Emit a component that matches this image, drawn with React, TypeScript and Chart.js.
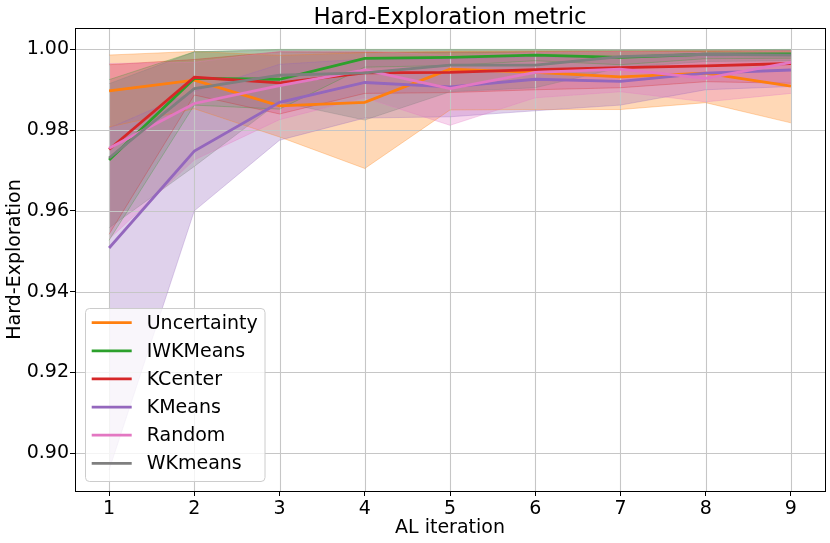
import { useEffect, useRef } from "react";
import { Chart, registerables } from "chart.js";

Chart.register(...registerables);

// AL iterations
const iterations = [1, 2, 3, 4, 5, 6, 7, 8, 9];
const xTicks = [1, 2, 3, 4, 5, 6, 7, 8, 9];
const yTicks = [0.9, 0.92, 0.94, 0.96, 0.98, 1.0];

const methods = ["Uncertainty", "IWKMeans", "KCenter", "KMeans", "Random", "WKmeans"];
const colors = ["#ff7f0e", "#2ca02c", "#d62728", "#9467bd", "#e377c2", "#7f7f7f"];

// means
const uncertaintyMean = [0.9897, 0.9924, 0.986, 0.9869, 0.9951, 0.9943, 0.9932, 0.9941, 0.9909];
const iwkmeansMean = [0.9726, 0.9928, 0.9926, 0.9978, 0.998, 0.9986, 0.998, 0.9988, 0.9989];
const kcenterMean = [0.9752, 0.9931, 0.9917, 0.9942, 0.9943, 0.995, 0.9955, 0.9959, 0.9965];
const kmeansMean = [0.9508, 0.9748, 0.9869, 0.9918, 0.9907, 0.9926, 0.9921, 0.9941, 0.9949];
const randomMean = [0.9755, 0.9866, 0.991, 0.9949, 0.9903, 0.9943, 0.9951, 0.9928, 0.9968];
const wkmeansMean = [0.9731, 0.9903, 0.9936, 0.9942, 0.9961, 0.9961, 0.9982, 0.9988, 0.9986];

// band upper edges
const uncertaintyUpper = [0.9986, 0.9995, 0.9985, 0.9992, 0.9995, 0.9996, 0.9996, 0.9996, 0.9995];
const iwkmeansUpper = [0.9925, 0.9994, 1.0, 1.0, 1.0, 1.0, 0.9998, 0.9999, 1.0];
const kcenterUpper = [0.9962, 0.9975, 0.9994, 0.9993, 0.9993, 0.9994, 0.9995, 0.9996, 0.9997];
const kmeansUpper = [0.9805, 0.9896, 0.9963, 0.9976, 0.9976, 0.9982, 0.998, 0.9982, 0.999];
const randomUpper = [0.9965, 0.9968, 0.9995, 0.9996, 0.9985, 0.9992, 0.9995, 0.9992, 0.9996];
const wkmeansUpper = [0.9915, 0.9994, 0.9998, 0.9998, 0.9998, 0.9998, 0.9999, 0.9999, 0.9999];

// band lower edges
const uncertaintyLower = [0.9808, 0.9853, 0.9783, 0.9705, 0.985, 0.9851, 0.9851, 0.9868, 0.9818];
const iwkmeansLower = [0.9527, 0.9862, 0.9852, 0.9956, 0.996, 0.9972, 0.9962, 0.9977, 0.9978];
const kcenterLower = [0.9542, 0.9887, 0.984, 0.9891, 0.9893, 0.99, 0.9905, 0.992, 0.9916];
const kmeansLower = [0.8958, 0.96, 0.9775, 0.983, 0.9833, 0.9848, 0.9862, 0.99, 0.9908];
const randomLower = [0.953, 0.9726, 0.9826, 0.988, 0.9812, 0.988, 0.9895, 0.987, 0.9891];
const wkmeansLower = [0.9558, 0.971, 0.987, 0.9825, 0.9895, 0.9905, 0.9955, 0.997, 0.9972];

const means = [uncertaintyMean, iwkmeansMean, kcenterMean, kmeansMean, randomMean, wkmeansMean];
const uppers = [uncertaintyUpper, iwkmeansUpper, kcenterUpper, kmeansUpper, randomUpper, wkmeansUpper];
const lowers = [uncertaintyLower, iwkmeansLower, kcenterLower, kmeansLower, randomLower, wkmeansLower];

const FONT = "'DejaVu Sans', sans-serif";

function alpha(hex: string, a: number) {
  const r = parseInt(hex.slice(1, 3), 16);
  const g = parseInt(hex.slice(3, 5), 16);
  const b = parseInt(hex.slice(5, 7), 16);
  return `rgba(${r},${g},${b},${a})`;
}

const pts = (ys: number[]) => iterations.map((x, i) => ({ x, y: ys[i] }));

export default function App() {
  const chartRef = useRef<HTMLCanvasElement | null>(null);

  useEffect(() => {
    document.body.style.margin = "0";
    const canvas = chartRef.current;
    if (!canvas) return;

    const datasets: any[] = [];
    methods.forEach((name, i) => {
      datasets.push({
        label: name + " upper",
        data: pts(uppers[i]),
        borderColor: alpha(colors[i], 0.3),
        borderWidth: 1,
        backgroundColor: alpha(colors[i], 0.3),
        pointRadius: 0,
        fill: "+1",
        order: 100 - i,
      });
      datasets.push({
        label: name + " lower",
        data: pts(lowers[i]),
        borderColor: alpha(colors[i], 0.3),
        borderWidth: 1,
        pointRadius: 0,
        fill: false,
        order: 100 - i,
      });
      datasets.push({
        label: name,
        data: pts(means[i]),
        borderColor: colors[i],
        borderWidth: 2.8,
        pointRadius: 0,
        fill: false,
        order: 50 - i,
      });
    });

    const decor = {
      id: "decor",
      beforeDatasetsDraw(chart: any) {
        // grid above the bands, below the lines
        const { ctx, chartArea: a, scales } = chart;
        ctx.save();
        ctx.strokeStyle = "#c6c6c6";
        ctx.lineWidth = 1.1;
        xTicks.forEach((v) => {
          const px = Math.round(scales.x.getPixelForValue(v)) + 0.5;
          ctx.beginPath();
          ctx.moveTo(px, a.top);
          ctx.lineTo(px, a.bottom);
          ctx.stroke();
        });
        yTicks.forEach((v) => {
          const py = Math.round(scales.y.getPixelForValue(v)) + 0.5;
          ctx.beginPath();
          ctx.moveTo(a.left, py);
          ctx.lineTo(a.right, py);
          ctx.stroke();
        });
        ctx.restore();
      },
      afterDraw(chart: any) {
        const { ctx, chartArea: a } = chart;
        ctx.save();
        // frame
        ctx.strokeStyle = "#000";
        ctx.lineWidth = 1;
        ctx.strokeRect(Math.round(a.left) + 0.5, Math.round(a.top) + 0.5, Math.round(a.right - a.left), Math.round(a.bottom - a.top));

        // title and axis labels
        ctx.fillStyle = "#000";
        ctx.textAlign = "center";
        ctx.textBaseline = "alphabetic";
        ctx.font = `22.8px ${FONT}`;
        ctx.fillText("Hard-Exploration metric", (a.left + a.right) / 2, 23.5);
        ctx.font = `19px ${FONT}`;
        ctx.fillText("AL iteration", (a.left + a.right) / 2, 533);
        ctx.save();
        ctx.translate(20, (a.top + a.bottom) / 2);
        ctx.rotate(-Math.PI / 2);
        ctx.fillText("Hard-Exploration", 0, 0);
        ctx.restore();

        // legend
        const lx = 85.5, ly = 308.5, lw = 179.5, lh = 173;
        ctx.beginPath();
        ctx.roundRect(lx, ly, lw, lh, 4);
        ctx.fillStyle = "rgba(255,255,255,0.8)";
        ctx.fill();
        ctx.strokeStyle = "#cccccc";
        ctx.lineWidth = 1;
        ctx.stroke();
        ctx.textAlign = "left";
        ctx.textBaseline = "middle";
        ctx.font = `19px ${FONT}`;
        methods.forEach((name, i) => {
          const ry = 322.7 + i * 28.13;
          ctx.strokeStyle = colors[i];
          ctx.lineWidth = 2.8;
          ctx.beginPath();
          ctx.moveTo(91.7, ry);
          ctx.lineTo(131.7, ry);
          ctx.stroke();
          ctx.fillStyle = "#000";
          ctx.fillText(name, 146.7, ry + 1);
        });
        ctx.restore();
      },
    };

    const chart = new Chart(canvas, {
      type: "line",
      data: { datasets },
      options: {
        animation: false,
        responsive: false,
        layout: { padding: { top: 28, right: 5, left: 0, bottom: 0 } },
        plugins: {
          legend: { display: false },
          tooltip: { enabled: false },
          title: { display: false },
          filler: { drawTime: "beforeDatasetsDraw" },
        },
        scales: {
          x: {
            type: "linear",
            min: 0.6,
            max: 9.4,
            afterBuildTicks: (s: any) => {
              s.ticks = xTicks.map((v) => ({ value: v }));
            },
            afterFit: (s: any) => {
              s.height = 52;
            },
            border: { display: false },
            grid: { drawOnChartArea: false, drawTicks: true, tickLength: 5, tickColor: "#000" },
            ticks: { color: "#000", font: { family: FONT, size: 19 }, padding: 2, maxRotation: 0 },
          },
          y: {
            type: "linear",
            min: 0.8906,
            max: 1.0053,
            afterBuildTicks: (s: any) => {
              s.ticks = yTicks.map((v) => ({ value: v }));
            },
            afterFit: (s: any) => {
              s.width = 75;
            },
            border: { display: false },
            grid: { drawOnChartArea: false, drawTicks: true, tickLength: 5, tickColor: "#000" },
            ticks: {
              color: "#000",
              font: { family: FONT, size: 19 },
              padding: 1,
              callback: (v: any) => Number(v).toFixed(2),
            },
          },
        },
      },
      plugins: [decor],
    });

    return () => {
      chart.destroy();
    };
  }, []);

  return (
    <div style={{ width: 830, height: 543 }}>
      <canvas ref={chartRef} width={830} height={543}></canvas>
    </div>
  );
}
